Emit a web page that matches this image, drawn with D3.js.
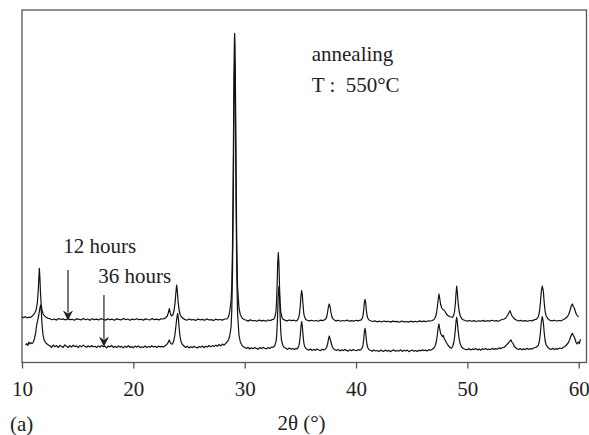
<!DOCTYPE html>
<html>
<head>
<meta charset="utf-8">
<script src="https://cdn.jsdelivr.net/npm/d3@7"></script>
<style>
  html, body { margin: 0; padding: 0; background: #fff; }
  svg { display: block; }
</style>
</head>
<body>
<svg id="chart" width="589" height="435"></svg>
<script>
// X-ray diffraction scans after annealing at 550 °C: [2θ (°), intensity (a.u.)]
const xTicks = [10, 20, 30, 40, 50, 60];

const scan12h = [
  [10.00,45.6],[10.15,44.8],[10.30,45.9],[10.45,44.6],[10.60,45.3],[10.75,45.0],[10.90,46.2],[11.02,47.6],
  [11.15,49.5],[11.28,53.0],[11.38,60.0],[11.46,72.0],[11.52,86.0],[11.56,94.2],[11.61,84.0],[11.66,70.0],
  [11.72,58.5],[11.80,52.0],[11.90,48.5],[12.02,46.6],[12.18,45.2],[12.35,44.0],
  [12.5,43.8],[12.7,42.8],[12.9,43.5],[13.1,42.4],[13.3,44.0],[13.5,43.0],[13.7,43.6],[13.9,42.5],
  [14.1,43.9],[14.3,42.9],[14.5,43.2],[14.7,42.3],[14.9,43.7],[15.1,43.3],[15.3,42.6],[15.5,44.1],
  [15.7,42.7],[15.9,43.5],[16.1,42.2],[16.3,43.8],[16.5,42.9],[16.7,43.4],[16.9,42.5],[17.1,43.9],
  [17.3,43.0],[17.5,42.4],[17.7,43.6],[17.9,42.8],[18.1,43.3],[18.3,42.2],[18.5,43.7],[18.7,43.1],
  [18.9,42.6],[19.1,44.0],[19.3,42.9],[19.5,43.5],[19.7,42.3],[19.9,43.4],[20.1,42.7],[20.3,43.8],
  [20.5,42.9],[20.7,43.2],[20.9,42.4],[21.1,43.6],[21.3,43.0],[21.5,42.5],[21.7,43.9],[21.9,42.8],
  [22.1,43.4],[22.3,42.6],[22.5,43.7],[22.7,43.5],[22.9,44.6],
  [23.05,46.5],[23.15,50.0],[23.23,53.8],[23.32,49.5],[23.42,46.5],[23.55,47.5],[23.66,52.0],[23.75,60.0],
  [23.83,71.0],[23.89,77.5],[23.95,71.5],[24.02,61.0],[24.10,53.0],[24.20,48.0],[24.32,45.5],[24.48,44.0],
  [24.6,43.1],[24.8,42.3],[25.0,43.5],[25.2,42.6],[25.4,43.0],[25.6,42.1],[25.8,43.4],[26.0,42.7],
  [26.2,43.1],[26.4,42.2],[26.6,43.6],[26.8,42.5],[27.0,42.9],[27.2,42.0],[27.4,43.3],[27.6,42.6],
  [27.8,43.0],[28.0,42.4],[28.2,43.5],
  [28.40,43.6],[28.50,44.6],[28.58,47.0],[28.66,51.5],[28.72,56.5],[28.78,62.0],[28.84,77.0],[28.905,114.5],
  [28.97,186.0],[29.035,286.0],[29.07,318.0],[29.10,329.2],[29.13,318.0],[29.165,285.0],[29.23,185.0],
  [29.295,113.0],[29.36,76.0],[29.49,54.0],[29.62,47.5],[29.80,44.0],[30.00,42.8],
  [30.15,42.3],[30.3,41.4],[30.5,42.6],[30.7,41.7],[30.9,42.0],[31.1,41.2],[31.3,42.4],[31.5,41.6],
  [31.7,42.1],[31.9,41.3],[32.1,42.5],[32.3,41.9],[32.45,42.8],
  [32.58,43.0],[32.69,44.7],[32.80,50.0],[32.855,59.0],[32.91,76.0],[32.965,99.6],[33.02,109.8],[33.075,99.0],
  [33.13,75.5],[33.185,59.5],[33.24,50.5],[33.35,45.0],[33.46,43.2],
  [33.6,42.4],[33.8,41.6],[34.0,42.5],[34.2,41.9],[34.4,42.3],[34.6,41.5],[34.75,42.6],
  [34.87,45.6],[34.93,49.5],[34.995,56.9],[35.06,67.3],[35.12,71.8],[35.18,67.0],[35.245,57.0],[35.31,49.0],
  [35.37,45.8],[35.50,43.0],[35.62,42.2],
  [35.8,41.6],[36.0,42.3],[36.2,41.5],[36.4,42.0],[36.6,41.3],[36.8,42.4],[37.0,41.8],[37.15,42.6],
  [37.30,43.8],[37.375,46.2],[37.45,50.5],[37.525,56.0],[37.60,58.5],[37.675,55.5],[37.75,50.0],[37.825,46.0],
  [37.90,44.0],[38.05,42.6],
  [38.2,41.6],[38.4,42.2],[38.6,41.3],[38.8,42.0],[39.0,41.5],[39.2,42.4],[39.4,41.2],[39.6,41.9],
  [39.8,41.4],[40.0,42.2],[40.2,41.6],[40.35,42.3],
  [40.45,42.4],[40.57,44.3],[40.63,47.1],[40.69,52.5],[40.75,60.0],[40.81,63.2],[40.87,59.5],[40.93,52.0],
  [40.99,47.0],[41.05,44.5],[41.17,42.5],
  [41.3,41.8],[41.5,41.0],[41.7,41.6],[41.9,40.7],[42.1,41.3],[42.3,40.5],[42.5,41.5],[42.7,40.9],
  [42.9,41.2],[43.1,40.4],[43.3,41.4],[43.5,40.8],[43.7,41.1],[43.9,40.3],[44.1,41.5],[44.3,40.6],
  [44.5,41.0],[44.7,40.4],[44.9,41.3],[45.1,40.7],[45.3,41.2],[45.5,40.5],[45.7,41.6],[45.9,40.9],
  [46.1,41.3],[46.3,40.8],[46.5,41.7],[46.7,41.5],
  [46.85,42.0],[47.0,43.0],[47.12,45.0],[47.22,49.0],[47.30,55.0],[47.38,63.0],[47.45,68.5],[47.52,64.0],
  [47.60,58.0],[47.70,54.5],[47.80,53.0],[47.90,52.5],[48.00,51.0],[48.12,48.5],[48.25,47.0],[48.40,46.0],
  [48.55,45.5],[48.68,45.2],[48.78,47.5],[48.86,52.0],[48.93,60.0],[48.98,69.0],[49.04,76.5],[49.10,70.0],
  [49.17,60.0],[49.25,52.0],[49.35,47.0],[49.48,44.0],[49.62,42.8],[49.80,42.0],
  [50.0,41.4],[50.2,42.0],[50.4,41.2],[50.6,41.9],[50.8,41.0],[51.0,41.7],[51.2,41.3],[51.4,42.1],
  [51.6,41.1],[51.8,41.8],[52.0,41.4],[52.2,42.2],[52.4,41.5],[52.6,41.9],[52.8,41.2],[53.0,42.5],
  [53.15,43.0],
  [53.3,43.5],[53.45,44.5],[53.6,47.0],[53.72,49.5],[53.83,51.8],[53.92,49.0],[54.02,46.5],[54.15,44.5],
  [54.3,43.0],[54.45,42.3],
  [54.6,41.5],[54.8,42.1],[55.0,41.3],[55.2,41.9],[55.4,41.2],[55.6,42.0],[55.8,41.6],[56.0,42.6],
  [56.1,43.0],
  [56.21,43.4],[56.38,46.0],[56.47,50.5],[56.555,59.0],[56.64,71.0],[56.73,76.5],[56.82,71.5],[56.905,59.5],
  [56.99,50.5],[57.08,46.5],[57.25,43.5],[57.4,42.3],
  [57.6,41.6],[57.8,42.3],[58.0,41.5],[58.2,42.0],[58.4,41.7],[58.6,42.8],[58.8,44.0],
  [58.95,45.5],[59.1,48.0],[59.22,52.0],[59.33,56.5],[59.43,58.5],[59.52,56.0],[59.6,54.5],[59.7,51.0],
  [59.8,48.0],[59.9,46.5],[60.0,45.8]
];

const scan36h = [
  [10.32,17.5],[10.42,18.8],[10.52,17.2],[10.62,20.3],[10.72,18.6],[10.82,19.8],[10.92,19.0],[11.02,20.5],
  [11.12,24.0],[11.22,29.0],[11.30,36.0],[11.40,42.0],[11.50,47.0],[11.60,54.0],[11.68,57.5],[11.74,50.0],
  [11.80,38.0],[11.88,28.5],[11.97,23.0],[12.10,20.2],[12.25,18.5],[12.40,17.2],
  [12.5,16.8],[12.65,15.2],[12.8,17.5],[12.95,15.8],[13.1,16.9],[13.25,14.9],[13.4,17.2],[13.55,16.0],
  [13.7,15.1],[13.85,17.6],[14.0,16.2],[14.15,15.0],[14.3,16.8],[14.45,15.5],[14.6,17.3],[14.75,15.9],
  [14.9,16.6],[15.05,14.8],[15.2,16.9],[15.35,15.6],[15.5,17.4],[15.65,16.1],[15.8,15.2],[15.95,16.7],
  [16.1,15.4],[16.25,17.0],[16.4,15.7],[16.55,16.3],[16.7,14.9],[16.85,16.6],[17.0,15.3],[17.15,17.1],
  [17.3,15.8],[17.45,16.4],[17.6,14.7],[17.75,16.5],[17.9,15.6],[18.05,17.0],[18.2,15.1],[18.35,16.2],
  [18.5,14.9],[18.65,16.7],[18.8,15.4],[18.95,16.1],[19.1,14.6],[19.25,16.3],[19.4,15.2],[19.55,16.8],
  [19.7,15.0],[19.85,15.9],[20.0,14.7],[20.15,16.4],[20.3,15.3],[20.45,16.6],[20.6,14.8],[20.75,15.8],
  [20.9,15.1],[21.05,16.5],[21.2,14.9],[21.35,16.0],[21.5,15.2],[21.65,16.7],[21.8,15.5],[21.95,16.2],
  [22.1,15.0],[22.25,16.4],[22.4,15.6],[22.55,16.1],[22.7,15.4],[22.85,16.8],[22.98,17.8],
  [23.08,19.0],[23.16,21.0],[23.23,22.5],[23.30,20.5],[23.40,18.5],[23.52,18.5],[23.64,22.0],[23.74,28.0],
  [23.83,37.0],[23.91,45.0],[23.98,49.2],[24.04,44.5],[24.11,35.0],[24.19,26.5],[24.28,21.0],[24.40,18.0],
  [24.55,16.5],
  [24.7,15.0],[24.85,16.3],[25.0,14.6],[25.15,15.8],[25.3,14.9],[25.45,16.1],[25.6,15.3],[25.75,14.5],
  [25.9,16.0],[26.05,15.2],[26.2,16.4],[26.35,14.8],[26.5,16.2],[26.65,15.5],[26.8,17.0],[26.95,15.6],
  [27.1,16.9],[27.25,15.9],[27.4,17.4],[27.55,16.2],[27.7,18.0],[27.85,16.6],[28.0,18.4],[28.15,17.3],
  [28.3,19.2],
  [28.42,20.5],[28.54,22.5],[28.64,26.0],[28.72,31.0],[28.78,36.0],[28.84,52.0],[28.905,88.0],[28.97,158.0],
  [29.035,257.0],[29.07,288.0],[29.10,299.2],[29.13,288.0],[29.165,256.0],[29.23,156.0],[29.295,86.0],
  [29.36,49.0],[29.49,27.0],[29.62,20.0],[29.80,16.5],[30.00,15.0],
  [30.15,14.0],[30.3,15.2],[30.45,13.5],[30.6,14.8],[30.75,13.8],[30.9,15.0],[31.05,14.1],[31.2,13.3],
  [31.35,14.9],[31.5,13.9],[31.65,15.1],[31.8,14.3],[31.95,13.6],[32.1,15.0],[32.25,14.0],[32.4,15.3],
  [32.59,15.4],[32.71,16.9],[32.83,21.8],[32.89,29.8],[32.95,45.0],[33.01,66.3],[33.07,75.8],[33.13,66.0],
  [33.19,44.5],[33.25,29.5],[33.31,22.0],[33.43,17.0],[33.55,15.0],
  [33.7,14.2],[33.85,13.1],[34.0,14.5],[34.15,13.4],[34.3,14.0],[34.45,12.9],[34.6,14.1],[34.72,13.5],
  [34.87,16.8],[34.93,20.4],[34.995,27.0],[35.06,36.5],[35.12,40.8],[35.18,36.0],[35.245,27.0],[35.31,20.0],
  [35.37,16.5],[35.50,14.0],[35.62,13.0],
  [35.75,12.4],[35.9,13.5],[36.05,12.0],[36.2,13.1],[36.35,12.2],[36.5,13.6],[36.65,12.5],[36.8,11.9],
  [36.95,13.2],[37.1,12.6],
  [37.25,13.5],[37.35,15.0],[37.45,18.5],[37.52,23.0],[37.60,26.5],[37.66,24.0],[37.73,21.5],[37.80,18.0],
  [37.88,15.5],[38.0,13.5],[38.12,12.8],
  [38.25,12.0],[38.4,13.1],[38.55,11.6],[38.7,12.7],[38.85,11.9],[39.0,13.0],[39.15,12.1],[39.3,11.4],
  [39.45,12.8],[39.6,11.8],[39.75,12.9],[39.9,12.2],[40.05,11.7],[40.2,13.0],[40.35,12.4],
  [40.45,13.0],[40.57,14.8],[40.63,17.6],[40.69,23.0],[40.75,30.7],[40.81,34.2],[40.87,30.0],[40.93,22.5],
  [40.99,17.5],[41.05,15.0],[41.17,12.8],
  [41.3,12.3],[41.45,11.2],[41.6,12.6],[41.75,11.5],[41.9,12.0],[42.05,10.9],[42.2,12.4],[42.35,11.6],
  [42.5,11.1],[42.65,12.5],[42.8,11.3],[42.95,12.1],[43.1,10.8],[43.25,11.9],[43.4,12.6],[43.55,11.2],
  [43.7,12.0],[43.85,11.4],[44.0,12.7],[44.15,11.1],[44.3,12.2],[44.45,11.5],[44.6,12.4],[44.75,10.9],
  [44.9,11.8],[45.05,12.5],[45.2,11.3],[45.35,12.0],[45.5,11.0],[45.65,12.3],[45.8,11.6],[45.95,12.8],
  [46.1,11.9],[46.25,12.4],[46.4,11.5],[46.55,12.9],[46.7,12.3],
  [46.85,13.2],[47.0,14.5],[47.12,17.0],[47.22,21.5],[47.30,27.5],[47.38,35.0],[47.45,38.5],[47.52,33.5],
  [47.60,29.0],[47.68,27.5],[47.76,26.0],[47.84,27.0],[47.92,24.0],[48.02,22.0],[48.14,19.5],[48.28,17.0],
  [48.42,15.2],[48.56,14.2],[48.68,16.0],[48.78,20.0],[48.86,26.0],[48.93,34.0],[48.98,41.0],[49.04,45.2],
  [49.10,40.5],[49.17,32.0],[49.25,24.5],[49.35,19.0],[49.48,15.5],[49.62,14.0],[49.80,13.2],
  [50.0,12.8],[50.15,13.9],[50.3,12.5],[50.45,13.6],[50.6,12.9],[50.75,14.0],[50.9,12.6],[51.05,13.4],
  [51.2,12.3],[51.35,13.8],[51.5,13.0],[51.65,14.1],[51.8,12.7],[51.95,13.5],[52.1,12.9],[52.25,14.2],
  [52.4,13.1],[52.55,13.9],[52.7,13.3],[52.85,14.6],[53.0,13.8],[53.15,15.0],
  [53.3,15.2],[53.45,16.8],[53.6,18.5],[53.72,20.0],[53.82,21.5],[53.92,22.5],[54.0,20.5],[54.1,19.0],
  [54.2,16.5],[54.32,15.0],[54.45,13.8],
  [54.6,13.0],[54.75,14.0],[54.9,12.7],[55.05,13.6],[55.2,12.9],[55.35,14.2],[55.5,13.1],[55.65,13.8],
  [55.8,13.4],[55.95,14.5],[56.1,15.0],
  [56.21,15.3],[56.38,17.5],[56.47,21.5],[56.555,29.0],[56.64,40.0],[56.73,45.8],[56.82,40.5],[56.905,29.5],
  [56.99,21.5],[57.08,17.5],[57.25,14.8],[57.4,13.6],
  [57.55,13.2],[57.7,14.1],[57.85,13.0],[58.0,13.9],[58.15,13.4],[58.3,14.5],[58.45,13.8],[58.6,15.0],
  [58.75,16.0],
  [58.9,17.5],[59.05,19.5],[59.18,22.5],[59.3,26.5],[59.43,29.2],[59.52,27.0],[59.6,25.5],[59.68,23.0],
  [59.76,20.0],[59.85,18.5],[59.95,20.5],[60.05,19.0],[60.12,22.0],[60.18,23.2]
];

// Annealing-time markers: label, 2θ of the arrow, arrow start and tip intensity
const markerLabels = ["12 hours", "36 hours"];
const markerAngles = [14.13, 17.36];
const markerFrom = [92.5, 67.5];
const markerTo = [42.0, 15.8];

const noteLines = ["annealing", "T :\u00A0 550\u00B0C"];
const xTitle = "2\u03B8 (\u00B0)";
const panelTag = "(a)";

// ---- layout ----
const plot = { left: 22, right: 586.5, top: 10, bottom: 362.5 };
const frameColor = "#555";
const textColor = "#222";
const fontFamily = "Tinos, serif";
const fontSize = "21px";

const svg = d3.select("#chart");

// every text element gets the same Times-style face
function styleText(sel) {
  return sel.style("font-family", fontFamily).style("font-size", fontSize).attr("fill", textColor);
}

const x = d3.scaleLinear().domain([10, 60.7]).range([plot.left, plot.right]);
const y = d3.scaleLinear().domain([0, 352.5]).range([plot.bottom, plot.top]);

// frame
svg.append("rect")
  .attr("x", plot.left).attr("y", plot.top)
  .attr("width", plot.right - plot.left).attr("height", plot.bottom - plot.top)
  .attr("fill", "none").attr("stroke", frameColor).attr("stroke-width", 1.3);

// bottom axis
const axis = svg.append("g")
  .attr("transform", `translate(0,${plot.bottom})`)
  .call(d3.axisBottom(x).tickValues(xTicks).tickSize(6).tickPadding(13).tickFormat(d3.format("d")));
axis.select(".domain").remove();
axis.selectAll(".tick line").attr("stroke", frameColor).attr("stroke-width", 1.3);
styleText(axis.selectAll(".tick text"));

// scans
const line = d3.line().x(d => x(d[0])).y(d => y(d[1]));
[scan12h, scan36h].forEach(scan => {
  svg.append("path")
    .datum(scan)
    .attr("d", line)
    .attr("fill", "none")
    .attr("stroke", "#111")
    .attr("stroke-width", 1.2)
    .attr("stroke-linejoin", "round");
});

// arrows with labels
const labelPos = [[13.71, 109.8], [16.85, 79.2]];
markerLabels.forEach((lab, i) => {
  const ax = x(markerAngles[i]);
  const y0 = y(markerFrom[i]);
  const y1 = y(markerTo[i]);
  const head = 10, half = 5;
  svg.append("line")
    .attr("x1", ax).attr("x2", ax)
    .attr("y1", y0).attr("y2", y1 - head + 2)
    .attr("stroke", textColor).attr("stroke-width", 1.2);
  svg.append("path")
    .attr("d", `M${ax},${y1} L${ax - half},${y1 - head} L${ax},${y1 - head + 3} L${ax + half},${y1 - head} Z`)
    .attr("fill", textColor);
  styleText(svg.append("text"))
    .attr("x", x(labelPos[i][0])).attr("y", y(labelPos[i][1]))
    .text(lab);
});

// annealing note
noteLines.forEach((t, i) => {
  styleText(svg.append("text"))
    .attr("x", 311.7).attr("y", 61 + i * 31)
    .style("white-space", "pre")
    .text(t);
});

// axis title and panel tag
styleText(svg.append("text"))
  .attr("x", 301.5).attr("y", 430)
  .attr("text-anchor", "middle")
  .text(xTitle);

styleText(svg.append("text"))
  .attr("x", 10).attr("y", 431)
  .text(panelTag);
</script>
</body>
</html>
